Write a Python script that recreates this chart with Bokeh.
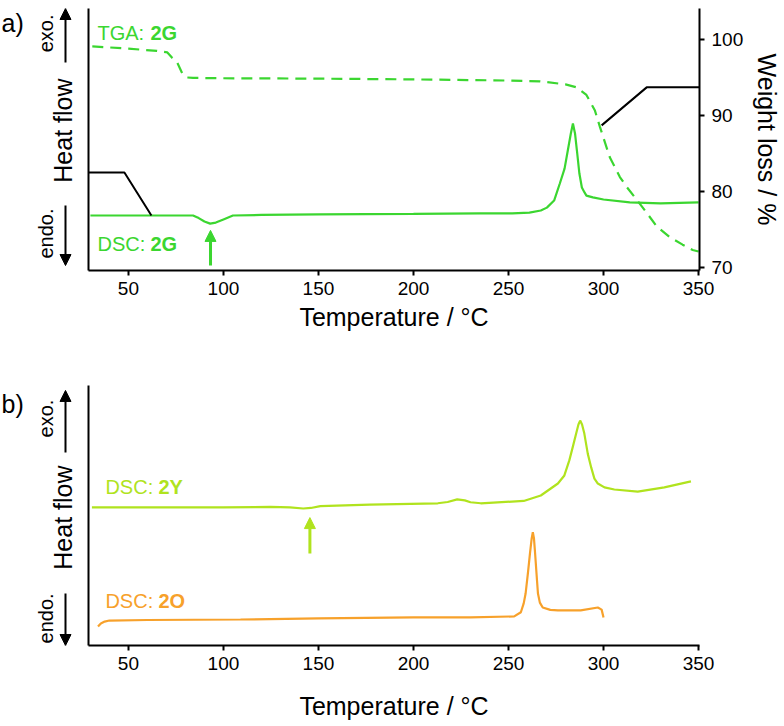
import numpy as np
from bokeh.plotting import figure
from bokeh.models import Range1d, LinearAxis, FixedTicker, Label, Arrow, NormalHead
from bokeh.layouts import column, row
from bokeh.embed import file_html
from bokeh.resources import INLINE

# ---------------- data ----------------
# Panel a) TGA of 2G (weight %)
tga_2g_temp = [31, 50, 65, 70.5, 73, 75.8, 78.4, 81, 84, 100, 150, 200, 250, 266.5,
               280, 286, 291, 295.4, 298.1, 303.3, 308.6, 312.2, 317.5, 322.7, 328,
               334.8, 341.6, 346.9, 350]
tga_2g_weight = [99.1, 98.8, 98.5, 98.3, 97.6, 96.9, 95.5, 95.0, 94.95, 94.9, 94.85,
                 94.75, 94.6, 94.5, 94.1, 93.7, 92.7, 90.7, 88.5, 84.5, 81.9, 80.6,
                 78.9, 77.2, 75.4, 74.0, 73.0, 72.3, 72.1]

# Panel a) DSC of 2G (heat flow, arbitrary units)
dsc_2g_temp = [30, 60, 84, 87, 90, 93, 96, 100, 105, 120, 150, 200, 235, 252, 261, 267,
               270.2, 274, 277, 279.5, 281.2, 282.8, 283.9, 285, 286, 287.3, 288.6, 290,
               291, 294.4, 300, 313.8, 330, 350]
dsc_2g_heat = [2.10, 2.10, 2.10, 2.00, 1.87, 1.79, 1.83, 1.95, 2.10, 2.12, 2.14, 2.16,
               2.18, 2.18, 2.21, 2.29, 2.40, 2.67, 3.32, 3.89, 4.58, 5.23, 5.61, 5.23,
               4.58, 3.70, 3.17, 2.98, 2.86, 2.79, 2.71, 2.60, 2.56, 2.60]

# Panel b) DSC of 2Y
dsc_2y_temp = [30.8, 60, 100, 124.7, 135, 142, 146, 151, 177, 212.8, 218, 223, 227, 230,
               235.4, 258, 267, 276, 279.4, 282, 283.8, 285.6, 286.8, 287.7, 288.7,
               289.9, 291.7, 293.5, 295.2, 297, 300.5, 305.7, 318, 332, 346]
dsc_2y_heat = [5.31, 5.31, 5.31, 5.33, 5.31, 5.27, 5.29, 5.36, 5.42, 5.47, 5.52, 5.62,
               5.58, 5.51, 5.47, 5.56, 5.77, 6.23, 6.54, 7.12, 7.63, 8.15, 8.50, 8.65,
               8.50, 8.15, 7.38, 6.85, 6.42, 6.23, 6.08, 6.00, 5.92, 6.08, 6.31]

# Panel b) DSC of 2O
dsc_2o_temp = [34, 35.5, 37.5, 40, 60, 109, 150, 200, 230, 253, 256.5, 258, 259, 260.2,
               261.3, 262.2, 262.8, 263.4, 264, 265, 265.5, 266.5, 268, 272, 276, 288,
               297, 299, 300]
dsc_2o_heat = [0.73, 0.85, 0.92, 0.96, 0.98, 1.00, 1.04, 1.08, 1.08, 1.12, 1.28, 1.62,
               2.00, 2.77, 3.54, 4.12, 4.36, 4.12, 3.54, 2.50, 2.00, 1.65, 1.46, 1.37,
               1.35, 1.35, 1.46, 1.38, 1.08]

temp_ticks = [50, 100, 150, 200, 250, 300, 350]
weight_ticks = [70, 80, 90, 100]

GREEN = "#3bd630"
YELLOW = "#b0e31e"
ORANGE = "#f7a12b"
FONT = "Liberation Sans"

X_RANGE = (29, 350.5)
DECO_W = 80


def style_axis(ax, tick_out=5):
    ax.axis_line_width = 2
    ax.axis_line_color = "black"
    ax.major_tick_line_width = 2
    ax.major_tick_line_color = "black"
    ax.major_tick_in = 0
    ax.major_tick_out = tick_out
    ax.minor_tick_line_color = None
    ax.major_label_text_font = FONT
    ax.major_label_text_font_size = "19px"
    ax.major_label_text_color = "black"
    ax.axis_label_text_font = FONT
    ax.axis_label_text_font_size = "25px"
    ax.axis_label_text_font_style = "normal"
    ax.axis_label_text_color = "black"


def base_fig(frame_h, top, bottom, title_standoff):
    p = figure(frame_width=611, frame_height=frame_h,
               min_border_left=8, min_border_right=70,
               min_border_top=top, min_border_bottom=bottom,
               x_range=Range1d(*X_RANGE), y_range=Range1d(0, 10),
               output_backend="svg", toolbar_location=None,
               x_axis_label="Temperature / °C")
    p.outline_line_color = None
    p.grid.visible = False
    p.background_fill_color = "white"
    p.border_fill_color = "white"
    xa = p.xaxis[0]
    style_axis(xa)
    xa.ticker = FixedTicker(ticks=temp_ticks)
    xa.major_label_standoff = 6
    xa.axis_label_standoff = title_standoff
    ya = p.yaxis[0]
    style_axis(ya, tick_out=0)
    ya.ticker = FixedTicker(ticks=[])
    ya.major_label_text_font_size = "0px"
    return p


def deco_fig(frame_h, top, bottom, panel, exo_v, up, hf_v, endo_v, down, tag_v):
    """Left-hand 'exo. <- Heat flow -> endo.' decoration, same vertical scale as the panel."""
    d = figure(frame_width=DECO_W, frame_height=frame_h, x_range=Range1d(0, DECO_W),
               y_range=Range1d(0, 10), output_backend="svg", toolbar_location=None,
               min_border_left=0, min_border_right=0,
               min_border_top=top, min_border_bottom=bottom)
    d.axis.visible = False
    d.grid.visible = False
    d.outline_line_color = None
    d.background_fill_color = "white"
    d.border_fill_color = "white"
    common = dict(text_font=FONT, text_color="black", angle=np.pi / 2,
                  text_align="center", text_baseline="middle")
    d.add_layout(Label(x=45, y=exo_v, text="exo.", text_font_size="20px", **common))
    d.add_layout(Label(x=45, y=endo_v, text="endo.", text_font_size="20px", **common))
    d.add_layout(Label(x=62, y=hf_v, text="Heat flow", text_font_size="25px", **common))
    for a, b in (up, down):
        d.add_layout(Arrow(x_start=65, y_start=a, x_end=65, y_end=b,
                           line_width=2, line_color="black",
                           end=NormalHead(size=11, fill_color="black", line_color="black")))
    d.add_layout(Label(x=1, y=tag_v, text=panel, text_font=FONT,
                       text_font_size="25px", text_color="black",
                       text_baseline="top", text_align="left"))
    return d


def two_part_label(p, x, y, plain, bold, color, offset):
    p.add_layout(Label(x=x, y=y, text=plain, text_font=FONT, text_font_size="20px",
                       text_color=color, text_baseline="middle"))
    p.add_layout(Label(x=x, y=y, x_offset=offset, text=bold, text_font=FONT,
                       text_font_size="20px", text_font_style="bold",
                       text_color=color, text_baseline="middle"))


# ---------------- panel a ----------------
p1 = base_fig(262, 8, 90, 5)
p1.extra_y_ranges = {"tga": Range1d(69.6, 104.08)}
ra = LinearAxis(y_range_name="tga", axis_label="Weight loss / %")
style_axis(ra)
ra.ticker = FixedTicker(ticks=weight_ticks)
ra.major_label_standoff = 7
ra.axis_label_standoff = 7
p1.add_layout(ra, "right")

p1.line(tga_2g_temp, tga_2g_weight, y_range_name="tga", line_color=GREEN,
        line_width=2.2, line_dash="11 7")
p1.line(dsc_2g_temp, dsc_2g_heat, line_color=GREEN, line_width=2.2)

# pointer lines (black)
p1.line([29, 47.9, 62.1], [3.74, 3.74, 2.10], line_color="black", line_width=2)
p1.line([299, 322.7, 350.5], [88.7, 93.7, 93.7], y_range_name="tga",
        line_color="black", line_width=2)

p1.add_layout(Arrow(x_start=93.2, y_start=0.19, x_end=93.2, y_end=1.53,
                    line_width=3, line_color=GREEN,
                    end=NormalHead(size=11, fill_color=GREEN, line_color=GREEN)))

two_part_label(p1, 33.7, 9.05, "TGA: ", "2G", GREEN, 53)
two_part_label(p1, 33.7, 1.03, "DSC: ", "2G", GREEN, 53)

d1 = deco_fig(262, 8, 90, "a)", 9.05, (7.94, 10.0), 5.34, 1.41, (2.48, 0.19), 10.0)

# ---------------- panel b ----------------
p2 = base_fig(260, 25, 81, 19)

p2.line(dsc_2y_temp, dsc_2y_heat, line_color=YELLOW, line_width=2.2)
p2.line(dsc_2o_temp, dsc_2o_heat, line_color=ORANGE, line_width=2.2)

p2.add_layout(Arrow(x_start=145.5, y_start=3.54, x_end=145.5, y_end=4.92,
                    line_width=3, line_color=YELLOW,
                    end=NormalHead(size=11, fill_color=YELLOW, line_color=YELLOW)))

two_part_label(p2, 37.9, 6.08, "DSC: ", "2Y", YELLOW, 53)
two_part_label(p2, 37.9, 1.73, "DSC: ", "2O", ORANGE, 53)

d2 = deco_fig(260, 25, 81, "b)", 8.73, (7.42, 9.81), 4.92, 1.04, (2.0, 0.0), 9.81)

layout = column(row(d1, p1, spacing=0), row(d2, p2, spacing=0), spacing=0)
open("out.html", "w").write(file_html(layout, INLINE))
